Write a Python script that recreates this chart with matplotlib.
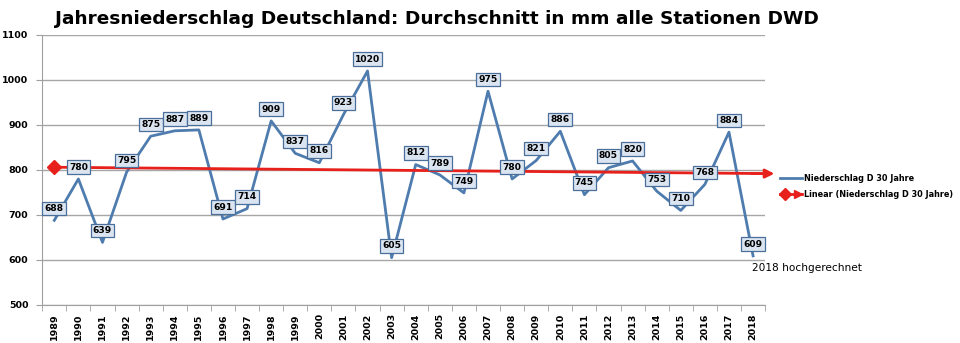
import matplotlib
matplotlib.use('Agg')
import matplotlib.pyplot as plt
import numpy as np

# Jahresniederschlag Deutschland, mm
years = list(range(1989, 2019))
rain = [688, 780, 639, 795, 875, 887, 889, 691, 714, 909,
        837, 816, 923, 1020, 605, 812, 789, 749, 975, 780,
        821, 886, 745, 805, 820, 753, 710, 768, 884, 609]
yticks = [500, 600, 700, 800, 900, 1000, 1100]

plt.rcParams['font.family'] = ['DejaVu Sans']

fig = plt.figure(figsize=(9.6, 3.43), dpi=100)
ax = fig.add_axes([0.044, 0.111, 0.753, 0.787])

x = np.arange(len(years))
ax.plot(x, rain, color='#4f7cae', lw=2.0, zorder=3, label='Niederschlag D 30 Jahre')

# data labels
for xi, v in zip(x, rain):
    ax.annotate(str(v), (xi, v), xytext=(0, 8.5), textcoords='offset points',
                ha='center', va='center', fontsize=6.6, fontweight='bold',
                bbox=dict(boxstyle='square,pad=0.25', fc='#dbe5f1', ec='#4a6f9a', lw=0.9),
                zorder=5)

# linear trend, extended one period
k, d = np.polyfit(x, rain, 1)
xt = np.array([0, len(years)])
yt = k * xt + d
ax.plot(xt, yt, color='#e8201c', lw=2.0, zorder=4)
ax.plot(xt[0], yt[0], marker='D', color='#e8201c', ms=7, zorder=4, clip_on=False)
ax.annotate('', xy=(xt[1], yt[1]), xytext=(xt[1] - 1.2, yt[1] - 1.2 * k),
            arrowprops=dict(arrowstyle='-|>', color='#e8201c', lw=2.0, mutation_scale=13),
            annotation_clip=False, zorder=4)

ax.set_xlim(-0.5, len(years) - 0.5)
ax.set_ylim(500, 1100)
ax.set_yticks(yticks)
ax.set_yticklabels([str(t) for t in yticks], fontsize=6.8, fontweight='bold')
ax.set_xticks(x)
ax.set_xticklabels([str(y) for y in years], rotation=90, fontsize=6.8, fontweight='bold')
ax.set_xticks(np.arange(-0.5, len(years)), minor=True)
ax.tick_params(axis='x', which='major', length=0, pad=6)
ax.tick_params(axis='x', which='minor', length=4, color='#a0a0a0')
ax.tick_params(axis='y', length=4, color='#a0a0a0', pad=6)
ax.grid(axis='y', color='#a6a6a6', lw=1)
ax.set_axisbelow(True)
for s in ['top', 'right']:
    ax.spines[s].set_visible(False)
for s in ['left', 'bottom']:
    ax.spines[s].set_color('#a0a0a0')

fig.text(0.057, 0.945, 'Jahresniederschlag Deutschland: Durchschnitt in mm alle Stationen DWD',
         fontsize=13.3, fontweight='bold', va='center')

# legend
fig.lines.append(plt.Line2D([0.813, 0.835], [0.481, 0.481], color='#4f7cae', lw=2, transform=fig.transFigure))
fig.text(0.837, 0.481, 'Niederschlag D 30 Jahre', fontsize=5.9, fontweight='bold', va='center')
fig.lines.append(plt.Line2D([0.813, 0.835], [0.434, 0.434], color='#e8201c', lw=2, transform=fig.transFigure))
fig.lines.append(plt.Line2D([0.818], [0.434], marker='D', color='#e8201c', ms=6, transform=fig.transFigure))
fig.lines.append(plt.Line2D([0.831], [0.434], marker='>', color='#e8201c', ms=6, transform=fig.transFigure))
fig.text(0.837, 0.434, 'Linear (Niederschlag D 30 Jahre)', fontsize=5.9, fontweight='bold', va='center')

fig.text(0.783, 0.218, '2018 hochgerechnet', fontsize=7.6, va='center')

fig.savefig('out.png', dpi=100)
